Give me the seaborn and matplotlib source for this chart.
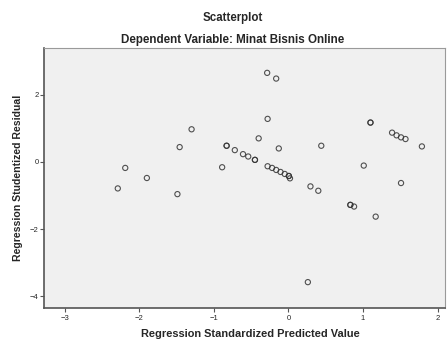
import matplotlib
matplotlib.use("Agg")
import matplotlib.pyplot as plt
import seaborn as sns
import pandas as pd

pred = [-2.29, -2.19, -1.90, -1.49, -1.46, -1.30, -0.89, -0.83, -0.83, -0.72,
        -0.286, -0.165, -0.28, -0.40, -0.61, -0.54, -0.45, -0.45, -0.13, 0.44,
        -0.28, -0.22, -0.165, -0.107, -0.05, 0.005, 0.005, 0.02, 0.295, 0.40,
        0.26, 0.83, 0.83, 0.88, 1.17, 1.01, 1.10, 1.10, 1.39, 1.45, 1.51, 1.57,
        1.79, 1.51]
resid = [-0.79, -0.18, -0.48, -0.96, 0.44, 0.97, -0.16, 0.48, 0.48, 0.35,
         2.65, 2.48, 1.28, 0.70, 0.23, 0.16, 0.06, 0.06, 0.40, 0.48,
         -0.13, -0.18, -0.24, -0.30, -0.36, -0.42, -0.42, -0.49, -0.73, -0.86,
         -3.58, -1.28, -1.28, -1.33, -1.63, -0.11, 1.17, 1.17, 0.87, 0.79, 0.73, 0.68,
         0.46, -0.63]
xticks = [-3, -2, -1, 0, 1, 2]
yticks = [-4, -2, 0, 2]

df = pd.DataFrame({"pred": pred, "resid": resid})

sns.set_style("white")
plt.rcParams["font.family"] = ["Liberation Sans", "DejaVu Sans"]

fig = plt.figure(figsize=(4.47, 3.40), dpi=100)
ax = fig.add_axes([44/447, 1-308/340, 401/447, 260/340])
ax.set_facecolor("#f0f0f0")
sns.scatterplot(data=df, x="pred", y="resid", ax=ax, marker="o", s=14,
                facecolor="none", edgecolor="#333333", linewidth=0.8, alpha=0.85)
ax.set_xlim(-3.28, 2.10)
ax.set_ylim(-4.35, 3.39)
ax.set_xticks(xticks)
ax.set_yticks(yticks)
ax.tick_params(axis="both", length=3, width=0.8, color="#555555", labelsize=5.5,
               pad=2, direction="out", left=True, bottom=True)
ax.tick_params(axis="y", pad=1)
for side in ["left", "bottom"]:
    ax.spines[side].set_color("#555555")
    ax.spines[side].set_linewidth(1.2)
for side in ["top", "right"]:
    ax.spines[side].set_color("#9a9a9a")
    ax.spines[side].set_linewidth(0.8)
ax.set_xlabel("Regression Standardized Predicted Value", fontsize=7.9,
              fontweight="bold")
ax.xaxis.set_label_coords((250-44)/401, (308-334)/260)
ax.xaxis.label.set_va("center")
ax.set_ylabel("Regression Studentized Residual", fontsize=7.6,
              fontweight="bold")
ax.yaxis.set_label_coords((18-44)/401, (308-178)/260)
ax.yaxis.label.set_va("center")
fig.text(233/447, 1-18/340, "Scatterplot", ha="center", va="center",
         fontsize=8.3, fontweight="bold")
fig.text(233/447, 1-40/340, "Dependent Variable: Minat Bisnis Online", ha="center",
         va="center", fontsize=8.4, fontweight="bold")
fig.savefig("out.png", dpi=100)
